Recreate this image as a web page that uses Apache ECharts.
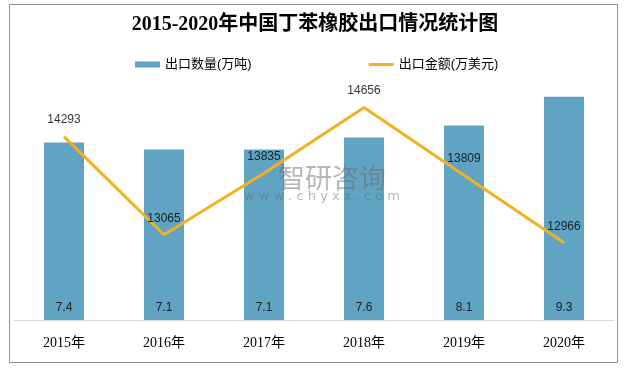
<!DOCTYPE html>
<html>
<head>
<meta charset="utf-8">
<script src="https://cdn.jsdelivr.net/npm/echarts@6/dist/echarts.min.js"></script>
<style>
html,body{margin:0;padding:0;background:#fff;}
#chart{width:630px;height:368px;}
</style>
</head>
<body>
<div id="chart"></div>
<script>
var categories = ['2015年','2016年','2017年','2018年','2019年','2020年'];
var exportVolume = [7.4, 7.1, 7.1, 7.6, 8.1, 9.3];
var exportValue = [14293, 13065, 13835, 14656, 13809, 12966];
var seriesNames = ['出口数量(万吨)', '出口金额(万美元)'];
var titleText = '2015-2020年中国丁苯橡胶出口情况统计图';

var chart = echarts.init(document.getElementById('chart'), null, {renderer:'canvas'});
var cjk = '"Liberation Sans","Noto Sans CJK SC",sans-serif';
chart.setOption({
  animation: false,
  backgroundColor: '#fff',
  title: {
    text: titleText,
    left: 'center',
    top: 10,
    textStyle: {fontFamily: '"Liberation Serif","Noto Sans CJK SC",serif', fontSize: 20, fontWeight: 'bold', color: '#000'}
  },
  legend: {
    left: 130,
    top: 53,
    itemGap: 117,
    itemWidth: 25,
    itemHeight: 6,
    symbolKeepAspect: true,
    textStyle: {fontFamily: cjk, fontSize: 13, color: '#000'},
    data: [
      {name: seriesNames[0], icon: 'rect'},
      {name: seriesNames[1], icon: 'path://M0,0L25,0L25,3L0,3Z'}
    ]
  },
  grid: {left: 14, right: 16, top: 80, bottom: 48, containLabel: false},
  xAxis: {
    type: 'category',
    data: categories,
    boundaryGap: true,
    axisLine: {lineStyle: {color: '#d9d9d9', width: 1}},
    axisTick: {show: false},
    axisLabel: {margin: 16, fontFamily: '"Liberation Serif","Noto Sans CJK SC",serif', fontSize: 14, color: '#000'}
  },
  yAxis: [
    {type: 'value', min: 0, max: 10, show: false, splitLine: {show: false}},
    {type: 'value', min: 12000, max: 15000, show: false, splitLine: {show: false}}
  ],
  series: [
    {
      name: seriesNames[0],
      type: 'bar',
      yAxisIndex: 0,
      data: exportVolume,
      barWidth: 40,
      itemStyle: {color: '#60A3C2'},
      label: {show: true, position: 'insideBottom', distance: 6, fontFamily: cjk, fontSize: 12, color: '#222'}
    },
    {
      name: seriesNames[1],
      type: 'line',
      yAxisIndex: 1,
      data: exportValue,
      symbol: 'none',
      lineStyle: {color: '#F2B122', width: 3},
      itemStyle: {color: '#F2B122'},
      z: 5
    },
    {
      name: 'valueLabels',
      type: 'scatter',
      yAxisIndex: 1,
      data: exportValue,
      symbolSize: 1,
      itemStyle: {color: 'rgba(0,0,0,0)'},
      z: 6,
      label: {show: true, position: 'top', distance: 10, fontFamily: cjk, fontSize: 12, color: '#000'}
    }
  ],
  graphic: [
    {type: 'rect', shape: {x: 9.5, y: 4.5, width: 608, height: 358}, style: {fill: 'none', stroke: '#8c8c8c', lineWidth: 1}, silent: true, z: 100},
    {type: 'text', left: 278, top: 164, style: {text: '智研咨询', font: '27px "Noto Sans CJK SC",sans-serif', fill: 'rgba(110,110,110,0.5)'}, z: 50, silent: true},
    {type: 'text', left: 244, top: 190, style: {text: 'w w w . c h y x x . c o m', font: '13px "DejaVu Sans",sans-serif', fill: 'rgba(110,110,110,0.5)'}, z: 50, silent: true}
  ]
});
</script>
</body>
</html>
